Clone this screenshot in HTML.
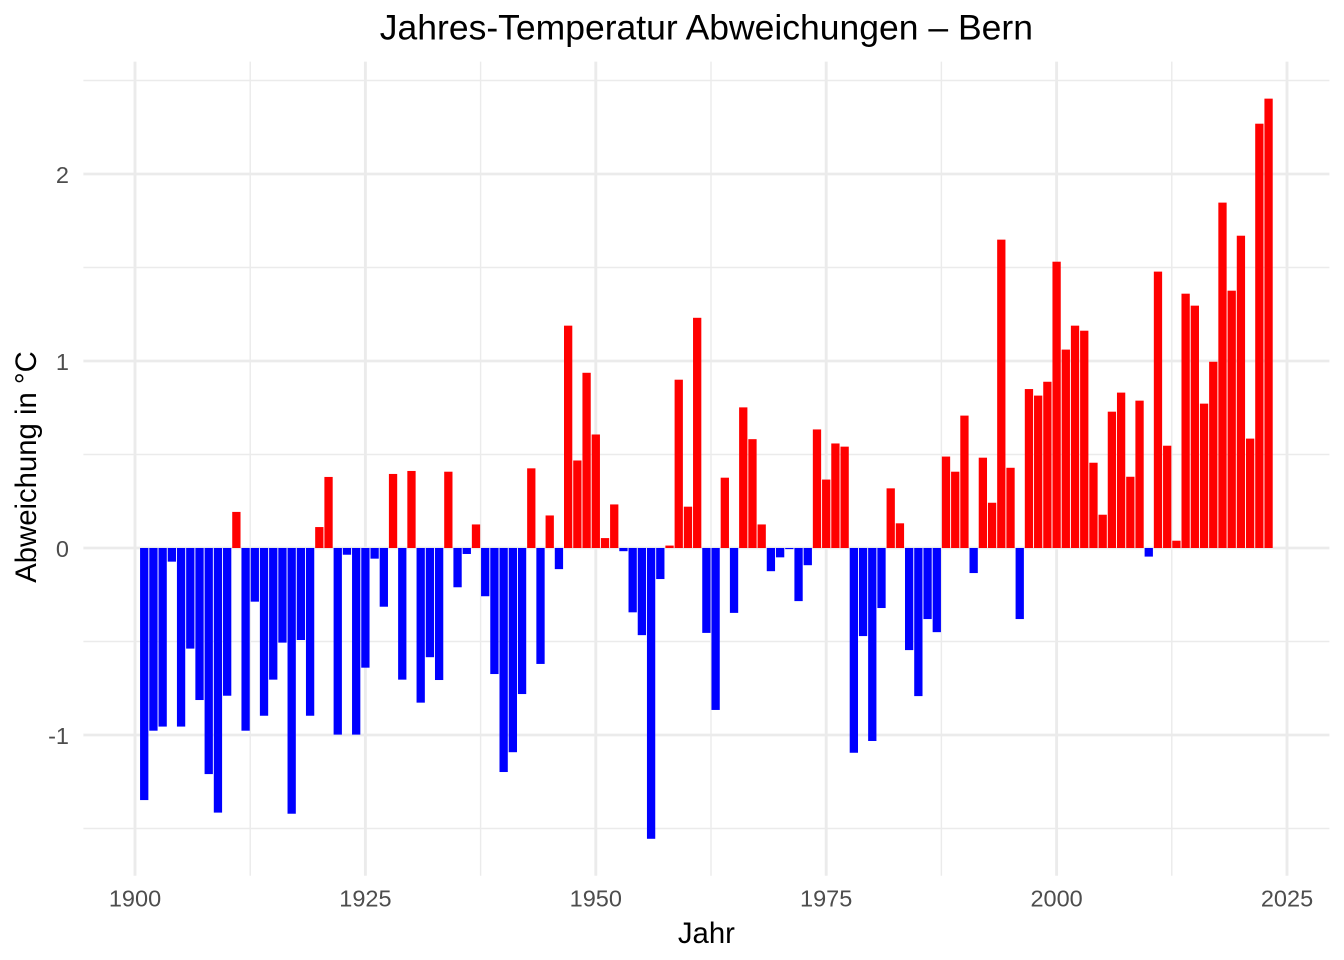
<!DOCTYPE html>
<html>
<head>
<meta charset="utf-8">
<style>
  html, body { margin: 0; padding: 0; background: #ffffff; }
  svg { display: block; }
  text { font-family: "Liberation Sans", Arial, Helvetica, sans-serif; }
</style>
</head>
<body>
<svg width="1344" height="960" viewBox="0 0 1344 960" xmlns="http://www.w3.org/2000/svg">
  <rect x="0" y="0" width="1344" height="960" fill="#ffffff"/>

  <g stroke="#EBEBEB" stroke-width="1.42" fill="none">
    <line x1="250.2" y1="61.6" x2="250.2" y2="875.8"/>
    <line x1="480.6" y1="61.6" x2="480.6" y2="875.8"/>
    <line x1="711" y1="61.6" x2="711" y2="875.8"/>
    <line x1="941.4" y1="61.6" x2="941.4" y2="875.8"/>
    <line x1="1171.8" y1="61.6" x2="1171.8" y2="875.8"/>
    <line x1="83.4" y1="828.5" x2="1329.4" y2="828.5"/>
    <line x1="83.4" y1="641.5" x2="1329.4" y2="641.5"/>
    <line x1="83.4" y1="454.5" x2="1329.4" y2="454.5"/>
    <line x1="83.4" y1="267.5" x2="1329.4" y2="267.5"/>
    <line x1="83.4" y1="80.5" x2="1329.4" y2="80.5"/>
  </g>
  <g stroke="#EBEBEB" stroke-width="2.85" fill="none">
    <line x1="135" y1="61.6" x2="135" y2="875.8"/>
    <line x1="365.4" y1="61.6" x2="365.4" y2="875.8"/>
    <line x1="595.8" y1="61.6" x2="595.8" y2="875.8"/>
    <line x1="826.2" y1="61.6" x2="826.2" y2="875.8"/>
    <line x1="1056.6" y1="61.6" x2="1056.6" y2="875.8"/>
    <line x1="1287" y1="61.6" x2="1287" y2="875.8"/>
    <line x1="83.4" y1="735" x2="1329.4" y2="735"/>
    <line x1="83.4" y1="548" x2="1329.4" y2="548"/>
    <line x1="83.4" y1="361" x2="1329.4" y2="361"/>
    <line x1="83.4" y1="174" x2="1329.4" y2="174"/>
  </g>

  <g transform="translate(135,548) scale(9.216,-187)">
    <g fill="#0000FF">
      <rect x="0.55" y="-1.348" width="0.9" height="1.348"/>
      <rect x="1.55" y="-0.977" width="0.9" height="0.977"/>
      <rect x="2.55" y="-0.955" width="0.9" height="0.955"/>
      <rect x="3.55" y="-0.073" width="0.9" height="0.073"/>
      <rect x="4.55" y="-0.955" width="0.9" height="0.955"/>
      <rect x="5.55" y="-0.538" width="0.9" height="0.538"/>
      <rect x="6.55" y="-0.813" width="0.9" height="0.813"/>
      <rect x="7.55" y="-1.209" width="0.9" height="1.209"/>
      <rect x="8.55" y="-1.415" width="0.9" height="1.415"/>
      <rect x="9.55" y="-0.790" width="0.9" height="0.790"/>
      <rect x="11.55" y="-0.977" width="0.9" height="0.977"/>
      <rect x="12.55" y="-0.287" width="0.9" height="0.287"/>
      <rect x="13.55" y="-0.897" width="0.9" height="0.897"/>
      <rect x="14.55" y="-0.704" width="0.9" height="0.704"/>
      <rect x="15.55" y="-0.506" width="0.9" height="0.506"/>
      <rect x="16.55" y="-1.421" width="0.9" height="1.421"/>
      <rect x="17.55" y="-0.492" width="0.9" height="0.492"/>
      <rect x="18.55" y="-0.897" width="0.9" height="0.897"/>
      <rect x="21.55" y="-0.998" width="0.9" height="0.998"/>
      <rect x="22.55" y="-0.036" width="0.9" height="0.036"/>
      <rect x="23.55" y="-0.998" width="0.9" height="0.998"/>
      <rect x="24.55" y="-0.640" width="0.9" height="0.640"/>
      <rect x="25.55" y="-0.057" width="0.9" height="0.057"/>
      <rect x="26.55" y="-0.314" width="0.9" height="0.314"/>
      <rect x="28.55" y="-0.704" width="0.9" height="0.704"/>
      <rect x="30.55" y="-0.827" width="0.9" height="0.827"/>
      <rect x="31.55" y="-0.584" width="0.9" height="0.584"/>
      <rect x="32.55" y="-0.706" width="0.9" height="0.706"/>
      <rect x="34.55" y="-0.210" width="0.9" height="0.210"/>
      <rect x="35.55" y="-0.032" width="0.9" height="0.032"/>
      <rect x="37.55" y="-0.258" width="0.9" height="0.258"/>
      <rect x="38.55" y="-0.674" width="0.9" height="0.674"/>
      <rect x="39.55" y="-1.198" width="0.9" height="1.198"/>
      <rect x="40.55" y="-1.092" width="0.9" height="1.092"/>
      <rect x="41.55" y="-0.781" width="0.9" height="0.781"/>
      <rect x="43.55" y="-0.620" width="0.9" height="0.620"/>
      <rect x="45.55" y="-0.113" width="0.9" height="0.113"/>
      <rect x="52.55" y="-0.017" width="0.9" height="0.017"/>
      <rect x="53.55" y="-0.344" width="0.9" height="0.344"/>
      <rect x="54.55" y="-0.466" width="0.9" height="0.466"/>
      <rect x="55.55" y="-1.555" width="0.9" height="1.555"/>
      <rect x="56.55" y="-0.166" width="0.9" height="0.166"/>
      <rect x="61.55" y="-0.454" width="0.9" height="0.454"/>
      <rect x="62.55" y="-0.866" width="0.9" height="0.866"/>
      <rect x="64.55" y="-0.347" width="0.9" height="0.347"/>
      <rect x="68.55" y="-0.124" width="0.9" height="0.124"/>
      <rect x="69.55" y="-0.050" width="0.9" height="0.050"/>
      <rect x="70.55" y="-0.006" width="0.9" height="0.006"/>
      <rect x="71.55" y="-0.284" width="0.9" height="0.284"/>
      <rect x="72.55" y="-0.092" width="0.9" height="0.092"/>
      <rect x="77.55" y="-1.095" width="0.9" height="1.095"/>
      <rect x="78.55" y="-0.471" width="0.9" height="0.471"/>
      <rect x="79.55" y="-1.032" width="0.9" height="1.032"/>
      <rect x="80.55" y="-0.321" width="0.9" height="0.321"/>
      <rect x="83.55" y="-0.546" width="0.9" height="0.546"/>
      <rect x="84.55" y="-0.792" width="0.9" height="0.792"/>
      <rect x="85.55" y="-0.380" width="0.9" height="0.380"/>
      <rect x="86.55" y="-0.450" width="0.9" height="0.450"/>
      <rect x="90.55" y="-0.134" width="0.9" height="0.134"/>
      <rect x="95.55" y="-0.380" width="0.9" height="0.380"/>
      <rect x="109.55" y="-0.046" width="0.9" height="0.046"/>
    </g>
    <g fill="#FF0000">
      <rect x="10.55" y="0" width="0.9" height="0.193"/>
      <rect x="19.55" y="0" width="0.9" height="0.112"/>
      <rect x="20.55" y="0" width="0.9" height="0.380"/>
      <rect x="27.55" y="0" width="0.9" height="0.396"/>
      <rect x="29.55" y="0" width="0.9" height="0.412"/>
      <rect x="33.55" y="0" width="0.9" height="0.408"/>
      <rect x="36.55" y="0" width="0.9" height="0.126"/>
      <rect x="42.55" y="0" width="0.9" height="0.426"/>
      <rect x="44.55" y="0" width="0.9" height="0.174"/>
      <rect x="46.55" y="0" width="0.9" height="1.189"/>
      <rect x="47.55" y="0" width="0.9" height="0.468"/>
      <rect x="48.55" y="0" width="0.9" height="0.937"/>
      <rect x="49.55" y="0" width="0.9" height="0.607"/>
      <rect x="50.55" y="0" width="0.9" height="0.053"/>
      <rect x="51.55" y="0" width="0.9" height="0.233"/>
      <rect x="57.55" y="0" width="0.9" height="0.013"/>
      <rect x="58.55" y="0" width="0.9" height="0.900"/>
      <rect x="59.55" y="0" width="0.9" height="0.221"/>
      <rect x="60.55" y="0" width="0.9" height="1.231"/>
      <rect x="63.55" y="0" width="0.9" height="0.376"/>
      <rect x="65.55" y="0" width="0.9" height="0.752"/>
      <rect x="66.55" y="0" width="0.9" height="0.582"/>
      <rect x="67.55" y="0" width="0.9" height="0.126"/>
      <rect x="73.55" y="0" width="0.9" height="0.634"/>
      <rect x="74.55" y="0" width="0.9" height="0.366"/>
      <rect x="75.55" y="0" width="0.9" height="0.559"/>
      <rect x="76.55" y="0" width="0.9" height="0.542"/>
      <rect x="81.55" y="0" width="0.9" height="0.319"/>
      <rect x="82.55" y="0" width="0.9" height="0.132"/>
      <rect x="87.55" y="0" width="0.9" height="0.489"/>
      <rect x="88.55" y="0" width="0.9" height="0.408"/>
      <rect x="89.55" y="0" width="0.9" height="0.708"/>
      <rect x="91.55" y="0" width="0.9" height="0.483"/>
      <rect x="92.55" y="0" width="0.9" height="0.242"/>
      <rect x="93.55" y="0" width="0.9" height="1.649"/>
      <rect x="94.55" y="0" width="0.9" height="0.429"/>
      <rect x="96.55" y="0" width="0.9" height="0.850"/>
      <rect x="97.55" y="0" width="0.9" height="0.815"/>
      <rect x="98.55" y="0" width="0.9" height="0.889"/>
      <rect x="99.55" y="0" width="0.9" height="1.531"/>
      <rect x="100.55" y="0" width="0.9" height="1.061"/>
      <rect x="101.55" y="0" width="0.9" height="1.189"/>
      <rect x="102.55" y="0" width="0.9" height="1.162"/>
      <rect x="103.55" y="0" width="0.9" height="0.456"/>
      <rect x="104.55" y="0" width="0.9" height="0.178"/>
      <rect x="105.55" y="0" width="0.9" height="0.729"/>
      <rect x="106.55" y="0" width="0.9" height="0.831"/>
      <rect x="107.55" y="0" width="0.9" height="0.381"/>
      <rect x="108.55" y="0" width="0.9" height="0.788"/>
      <rect x="110.55" y="0" width="0.9" height="1.478"/>
      <rect x="111.55" y="0" width="0.9" height="0.547"/>
      <rect x="112.55" y="0" width="0.9" height="0.039"/>
      <rect x="113.55" y="0" width="0.9" height="1.360"/>
      <rect x="114.55" y="0" width="0.9" height="1.296"/>
      <rect x="115.55" y="0" width="0.9" height="0.772"/>
      <rect x="116.55" y="0" width="0.9" height="0.996"/>
      <rect x="117.55" y="0" width="0.9" height="1.847"/>
      <rect x="118.55" y="0" width="0.9" height="1.376"/>
      <rect x="119.55" y="0" width="0.9" height="1.670"/>
      <rect x="120.55" y="0" width="0.9" height="0.585"/>
      <rect x="121.55" y="0" width="0.9" height="2.269"/>
      <rect x="122.55" y="0" width="0.9" height="2.403"/>
    </g>
  </g>

  <g fill="#4D4D4D" font-size="23.5" text-anchor="end">
    <text x="69" y="744">-1</text>
    <text x="69" y="557">0</text>
    <text x="69" y="370">1</text>
    <text x="69" y="183">2</text>
  </g>

  <g fill="#4D4D4D" font-size="23.5" text-anchor="middle">
    <text x="135" y="906.5">1900</text>
    <text x="365.4" y="906.5">1925</text>
    <text x="595.8" y="906.5">1950</text>
    <text x="826.2" y="906.5">1975</text>
    <text x="1056.6" y="906.5">2000</text>
    <text x="1287" y="906.5">2025</text>
  </g>

  <text x="706.4" y="943" font-size="29.3" fill="#000000" text-anchor="middle">Jahr</text>
  <text transform="translate(36,467) rotate(-90)" font-size="29.3" fill="#000000" text-anchor="middle">Abweichung in °C</text>

  <text x="706.4" y="39.5" font-size="35.5" fill="#000000" text-anchor="middle">Jahres-Temperatur Abweichungen – Bern</text>
</svg>
</body>
</html>
